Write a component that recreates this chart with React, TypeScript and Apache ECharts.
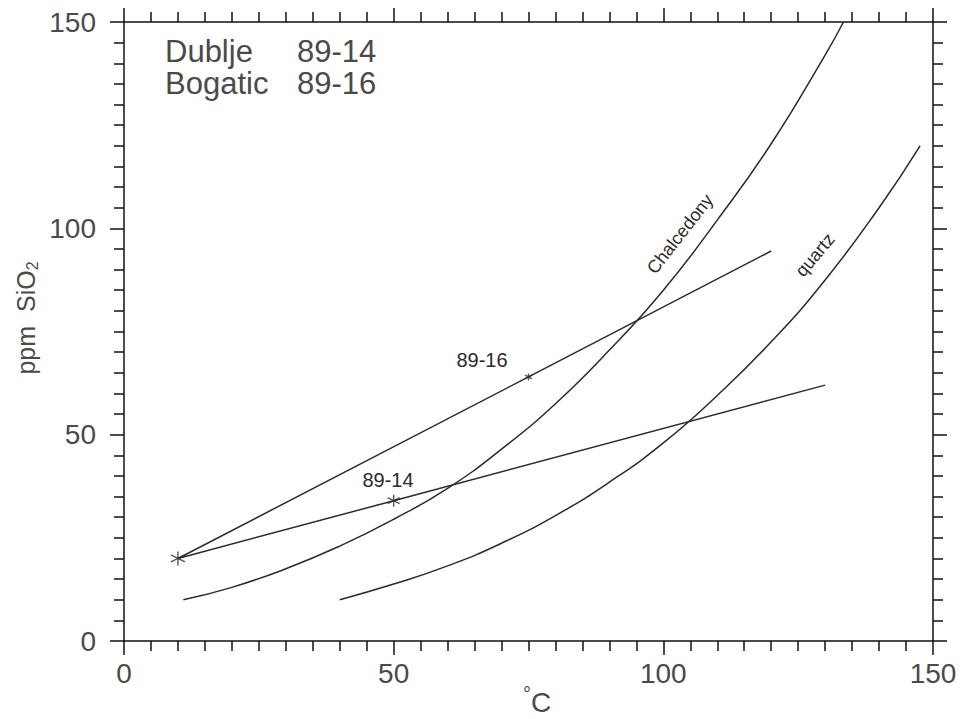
import React, { useEffect, useRef } from "react";
import * as echarts from "echarts";

const xTicks = [0, 50, 100, 150];
const yTicks = [0, 50, 100, 150];

const chalcedony: [number, number][] = [
  [11, 10], [20, 13], [30, 17.5], [40, 23], [50, 29.5], [60, 37], [70, 46.5],
  [80, 57.5], [90, 70.5], [100, 85], [110, 102], [120, 120.5], [130, 142], [133.4, 150],
];
const quartz: [number, number][] = [
  [40, 10], [50, 13.8], [60, 18.2], [70, 23.7], [80, 30.4], [90, 38.5],
  [100, 48], [110, 59.5], [120, 72.5], [130, 87.5], [140, 105], [147.6, 120],
];
const line8914: [number, number][] = [[10, 20], [50, 34], [130, 62]];
const line8916: [number, number][] = [[10, 20], [75, 64], [120, 94.5]];
const samplePoints: { name: string; value: [number, number]; size: number }[] = [
  { name: "start", value: [10, 20], size: 14 },
  { name: "89-14", value: [50, 34], size: 12 },
  { name: "89-16", value: [75, 64], size: 7 },
];

const FONT = "'Liberation Sans', Arial, sans-serif";
const LINE = "#2a2a2a";
const TXT = "#4a4a4a";
const STAR = "path://M0,-10L0,10M-8.66,-5L8.66,5M-8.66,5L8.66,-5";

export default function App() {
  const ref = useRef<HTMLDivElement>(null);
  useEffect(() => {
    if (!ref.current) return;
    const chart = echarts.init(ref.current, undefined, { renderer: "svg" });
    const axisCommon = {
      type: "value" as const,
      min: 0,
      max: 150,
      interval: 50,
      splitLine: { show: false },
      axisLine: { show: true, onZero: false, lineStyle: { color: "#111", width: 1.5 } },
      axisTick: { show: true, inside: false, length: 14, lineStyle: { color: "#111", width: 1.5 } },
      minorTick: { show: true, splitNumber: 10, length: 10, lineStyle: { color: "#111", width: 1.5 } },
    };
    const lineSeries = (name: string, data: [number, number][], smooth: boolean) => ({
      type: "line" as const,
      name,
      data,
      smooth,
      showSymbol: false,
      symbol: "none",
      lineStyle: { color: LINE, width: 1.5 },
      z: 2,
    });
    chart.setOption({
      animation: false,
      backgroundColor: "#ffffff",
      grid: { left: 124, right: 32, top: 22, bottom: 78 },
      xAxis: [
        {
          ...axisCommon,
          position: "bottom",
          axisLabel: {
            show: true,
            margin: 18,
            fontSize: 28,
            color: TXT,
            fontFamily: FONT,
            formatter: (v: number) => (xTicks.includes(v) ? String(v) : ""),
          },
        },
        { ...axisCommon, position: "top", axisLabel: { show: false } },
      ],
      yAxis: [
        {
          ...axisCommon,
          position: "left",
          axisLabel: {
            show: true,
            margin: 28,
            fontSize: 28,
            color: TXT,
            fontFamily: FONT,
            formatter: (v: number) => (yTicks.includes(v) ? String(v) : ""),
          },
        },
        { ...axisCommon, position: "right", axisLabel: { show: false } },
      ],
      series: [
        lineSeries("Chalcedony", chalcedony, true),
        lineSeries("quartz", quartz, true),
        lineSeries("89-14", line8914, false),
        lineSeries("89-16", line8916, false),
        {
          type: "scatter",
          data: samplePoints.map((p) => ({ name: p.name, value: p.value, symbolSize: p.size })),
          symbol: STAR,
          itemStyle: { color: "transparent", borderColor: LINE, borderWidth: 1.4 },
          z: 3,
        },
      ],
      graphic: [
        { type: "text", left: 165, top: 36, style: { text: "Dublje", font: `31px ${FONT}`, fill: TXT } },
        { type: "text", left: 297, top: 36, style: { text: "89-14", font: `31px ${FONT}`, fill: TXT } },
        { type: "text", left: 165, top: 68, style: { text: "Bogatic", font: `31px ${FONT}`, fill: TXT } },
        { type: "text", left: 297, top: 68, style: { text: "89-16", font: `31px ${FONT}`, fill: TXT } },
        {
          type: "text", x: 26, y: 318, rotation: Math.PI / 2,
          style: {
            text: "ppm  SiO{s|2}",
            font: `25px ${FONT}`, fill: TXT, align: "center", verticalAlign: "middle",
            rich: { s: { fontSize: 16, fontFamily: FONT, fill: TXT, verticalAlign: "bottom", padding: [12, 0, 0, 0] } },
          } as any,
        },
        {
          type: "text", x: 537, y: 702,
          style: {
            text: "{d|°}C", font: `28px ${FONT}`, fill: TXT, align: "center", verticalAlign: "middle",
            rich: { d: { fontSize: 20, fontFamily: FONT, fill: TXT, padding: [0, 0, 16, 0] } },
          } as any,
        },
        {
          type: "text", x: 680, y: 234, rotation: (52 * Math.PI) / 180,
          style: { text: "Chalcedony", font: `18px ${FONT}`, fill: LINE, align: "center", verticalAlign: "middle" },
        },
        {
          type: "text", x: 815, y: 255, rotation: (50 * Math.PI) / 180,
          style: { text: "quartz", font: `18px ${FONT}`, fill: LINE, align: "center", verticalAlign: "middle" },
        },
        {
          type: "text", x: 482, y: 360,
          style: { text: "89-16", font: `20px ${FONT}`, fill: LINE, align: "center", verticalAlign: "middle" },
        },
        {
          type: "text", x: 388, y: 480,
          style: { text: "89-14", font: `20px ${FONT}`, fill: LINE, align: "center", verticalAlign: "middle" },
        },
      ],
    });
    return () => chart.dispose();
  }, []);
  return <div ref={ref} style={{ width: 965, height: 719, position: "absolute", left: 0, top: 0 }} />;
}
